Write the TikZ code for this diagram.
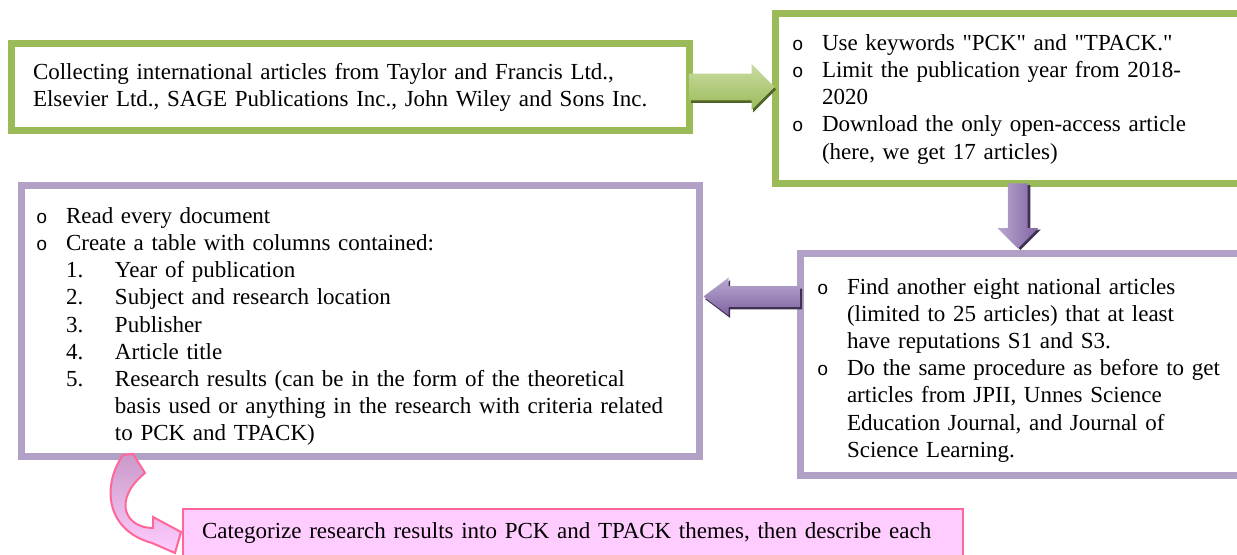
\documentclass[tikz,border=0pt]{standalone}
\usepackage{fontspec}
\setmainfont{Liberation Serif}[Ligatures=TeXOff]
\newfontfamily\bulletfont{Liberation Mono}
\usetikzlibrary{shapes.arrows,shadows,calc,positioning}

\definecolor{boxgreen}{HTML}{9BBB59}
\definecolor{boxpurple}{HTML}{B2A1C7}
\definecolor{greenlight}{HTML}{C9DCA2}
\definecolor{greendark}{HTML}{4F6228}
\definecolor{purplelight}{HTML}{B9A9D0}
\definecolor{purplemid}{HTML}{8064A2}
\definecolor{purpledark}{HTML}{3F3151}
\definecolor{pinkline}{HTML}{FF6699}
\definecolor{pinkfill}{HTML}{FFCCFF}
\definecolor{curvemauve}{HTML}{C99BC9}

% list items in the boxes
\newcommand{\circitem}[1]{\par\hangindent=15pt\hangafter=1\noindent\makebox[15pt][l]{\bulletfont\fontsize{9.5}{9.5}\selectfont o}#1\par}
\newcommand{\numitem}[2]{\par\hangindent=39.5pt\hangafter=1\noindent\hspace*{15pt}\makebox[24.5pt][l]{#1}#2\par}

\begin{document}
\begin{tikzpicture}[x=0.5pt,y=-0.5pt,
  every node/.style={font=\fontsize{11.5}{13.6}\selectfont, outer sep=0pt},
  framebox/.style={line width=3.2pt, fill=white, align=left, anchor=north west},
  greenbox/.style={framebox, draw=boxgreen},
  purplebox/.style={framebox, draw=boxpurple},
  pinkbox/.style={draw=pinkline, line width=1pt, fill=pinkfill, align=left, anchor=north west},
  blockarrow/.style={single arrow, text height=0pt, text depth=0pt, anchor=tail}]

\useasboundingbox (0,0) rectangle (1237,555);
\clip (0,0) rectangle (1237,555);

% boxes
\node[greenbox, minimum width=339pt, minimum height=43.5pt, inner xsep=10.75pt, text width=317.5pt] (collect) at (11.5,43.5)
  {Collecting international articles from Taylor and Francis Ltd.,\\Elsevier Ltd., SAGE Publications Inc., John Wiley and Sons Inc.};

\node[greenbox, minimum width=242.25pt, minimum height=85pt, inner xsep=8.25pt, text width=225.75pt] (search) at (775.5,13.5)
  {\vspace*{-5pt}
   \circitem{Use keywords "PCK" and "TPACK."}
   \circitem{Limit the publication year from 2018-\newline 2020}
   \circitem{Download the only open-access article\newline (here, we get 17 articles)}};

\node[purplebox, minimum width=339pt, minimum height=135.5pt, inner xsep=7.25pt, text width=324.5pt] (review) at (21.5,185.5)
  {\circitem{Read every document}
   \circitem{Create a table with columns contained:}
   \numitem{1.}{Year of publication}
   \numitem{2.}{Subject and research location}
   \numitem{3.}{Publisher}
   \numitem{4.}{Article title}
   \numitem{5.}{Research results (can be in the form of the theoretical\newline basis used or anything in the research with criteria related\newline to PCK and TPACK)}};

\node[purplebox, minimum width=230.75pt, minimum height=111pt, inner xsep=8.25pt, text width=214.25pt] (national) at (800.5,253.5)
  {\circitem{Find another eight national articles\newline (limited to 25 articles) that at least\newline have reputations S1 and S3.}
   \circitem{Do the same procedure as before to get\newline articles from JPII, Unnes Science\newline Education Journal, and Journal of\newline Science Learning.}};

\node[pinkbox, minimum width=390pt, minimum height=24pt, inner xsep=9.5pt, text width=371pt] (categorize) at (183,509)
  {\mbox{Categorize research results into PCK and TPACK themes, then describe each}};

% block arrows
\node[blockarrow, inner xsep=0pt, inner ysep=6.5pt, single arrow head extend=4.75pt, minimum width=22.5pt, minimum height=42.5pt,
  single arrow tip angle=90, top color=greenlight, bottom color=boxgreen,
  drop shadow={shadow xshift=0.8pt, shadow yshift=-1.3pt, fill=greendark, opacity=1}] (gotosearch) at (collect.east) {};

\node[blockarrow, inner xsep=4.75pt, inner ysep=0pt, single arrow head extend=5.25pt, minimum width=20pt, minimum height=32.5pt,
  single arrow tip angle=90, shape border rotate=270, left color=purplelight, right color=purplemid,
  drop shadow={shadow xshift=1.3pt, shadow yshift=-0.8pt, fill=purpledark, opacity=1}] (gotonational) at (search.south) {};

\node[blockarrow, inner xsep=0pt, inner ysep=5pt, single arrow head extend=4.25pt, minimum width=18.5pt, minimum height=48.5pt,
  single arrow tip angle=74, shape border rotate=180, top color=purplelight, bottom color=purplemid,
  drop shadow={shadow xshift=0.8pt, shadow yshift=-1.3pt, fill=purpledark, opacity=1}] (gotoreview) at ($(national.west)+(0,-68)$) {};

% curved arrow down to the last step
\coordinate (curvetop) at (123,455);
\coordinate (curvetip) at (181,532);
\draw[pinkline, line width=1pt, top color=curvemauve, bottom color=pinkfill]
  (curvetop) -- (133,454) -- (145,473) .. controls (112,500) and (125,528) .. (153,528)
  -- (153,517) -- (curvetip) -- (175,553) -- (152,543)
  .. controls (105,530) and (102,485) .. (curvetop) -- cycle;
\end{tikzpicture}
\end{document}
